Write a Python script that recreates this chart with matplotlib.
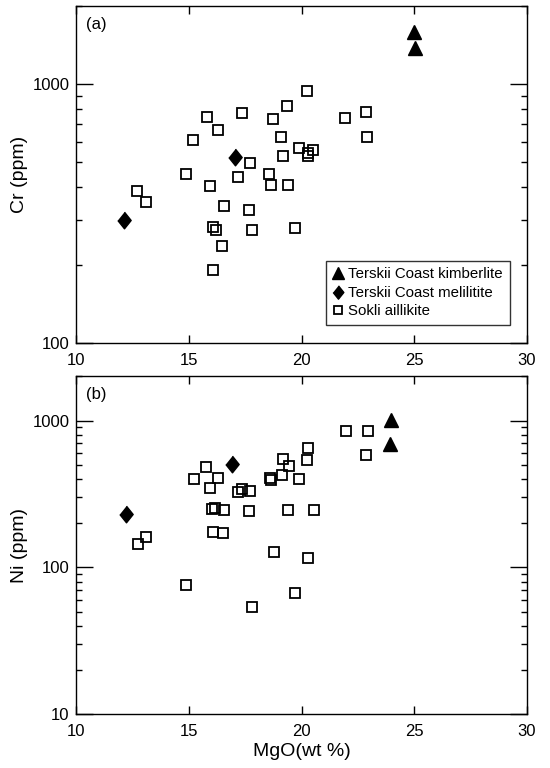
import numpy as np
import matplotlib.pyplot as plt
from matplotlib.ticker import FixedLocator, LogLocator, NullFormatter

plt.rcParams['font.family'] = ['Liberation Sans', 'DejaVu Sans']

# (a) Cr (ppm) vs MgO (wt %)
kimb_mgo_a = [25.0, 25.03]
kimb_cr = [1585, 1375]
meli_mgo_a = [17.03, 12.12]
meli_cr = [523, 298]
sokli_mgo_a = [15.79, 17.34, 18.72, 16.30, 15.19, 19.08, 19.19, 17.71, 14.85, 17.16,
               18.57, 19.37, 20.23, 21.93, 22.87, 22.90, 19.90, 20.52, 20.30, 20.26,
               15.93, 18.64, 19.38, 12.67, 13.07, 16.53, 17.64, 16.05, 16.19, 17.80,
               16.45, 16.05, 19.71]
sokli_cr = [747, 777, 732, 665, 609, 625, 527, 497, 450, 437,
            452, 826, 942, 737, 781, 627, 565, 557, 544, 528,
            404, 408, 408, 386, 351, 340, 326, 281, 274, 274,
            237, 192, 279]

# (b) Ni (ppm) vs MgO (wt %)
kimb_mgo_b = [23.97, 23.94]
kimb_ni = [1011, 694]
meli_mgo_b = [16.90, 12.21]
meli_ni = [502, 232]
sokli_mgo_b = [15.76, 15.20, 16.28, 15.94, 17.16, 17.34, 17.71, 18.60, 18.62, 19.12,
               19.19, 16.04, 16.15, 16.57, 17.64, 16.05, 16.49, 13.08, 12.72, 18.78,
               21.95, 22.93, 22.86, 20.30, 20.23, 19.44, 19.90, 19.41, 20.55, 14.88,
               17.79, 20.30, 19.71]
sokli_ni = [481, 397, 408, 347, 325, 340, 330, 404, 392, 427,
            549, 251, 255, 244, 242, 174, 171, 161, 145, 127,
            855, 842, 585, 648, 540, 494, 401, 247, 247, 76,
            54, 115, 67]

diamante = [(0, 1), (0.8, 0), (0, -1), (-0.8, 0)]

fig = plt.figure(figsize=(5.5, 7.68), dpi=100)
ax1 = fig.add_axes([0.139, 0.553, 0.819, 0.439])
ax2 = fig.add_axes([0.139, 0.070, 0.819, 0.440])


def pontos(ax, mk, yk, mm, ym, ms_, ys_):
    ax.plot(mk, yk, linestyle='none', marker='^', ms=10, color='k',
            label='Terskii Coast kimberlite')
    ax.plot(mm, ym, linestyle='none', marker=diamante, ms=12, color='k',
            label='Terskii Coast melilitite')
    ax.plot(ms_, ys_, linestyle='none', marker='s', ms=7.6, mfc='none', mec='k',
            mew=1.3, label='Sokli aillikite')


def eixos(ax, ymin, yticks):
    ax.set_yscale('log')
    ax.set_xlim(10, 30)
    ax.set_ylim(ymin, 2000)
    ax.xaxis.set_major_locator(FixedLocator([10, 15, 20, 25, 30]))
    ax.yaxis.set_major_locator(FixedLocator(yticks))
    ax.set_yticklabels([str(t) for t in yticks])
    ax.yaxis.set_minor_locator(LogLocator(base=10, subs=np.arange(2, 10)))
    ax.yaxis.set_minor_formatter(NullFormatter())
    ax.tick_params(axis='both', which='both', direction='in', top=True, right=True,
                   labelsize=12, width=1)
    ax.tick_params(axis='x', which='major', length=6, pad=7)
    ax.tick_params(axis='y', which='major', length=12, pad=5)
    ax.tick_params(axis='y', which='minor', length=4)
    for s in ax.spines.values():
        s.set_linewidth(1)


pontos(ax1, kimb_mgo_a, kimb_cr, meli_mgo_a, meli_cr, sokli_mgo_a, sokli_cr)
eixos(ax1, 100, [100, 1000])
ax1.set_ylabel('Cr (ppm)', fontsize=14, labelpad=3)
ax1.text(0.022, 0.968, '(a)', transform=ax1.transAxes, fontsize=12, va='top')
leg = ax1.legend(loc='lower right', bbox_to_anchor=(0.962, 0.054), borderaxespad=0,
                 fontsize=10.8, frameon=True, fancybox=False, edgecolor='k',
                 markerscale=0.8, handlelength=0.7, handletextpad=0.35,
                 labelspacing=0.3, borderpad=0.45)
leg.get_frame().set_linewidth(1)

pontos(ax2, kimb_mgo_b, kimb_ni, meli_mgo_b, meli_ni, sokli_mgo_b, sokli_ni)
eixos(ax2, 10, [10, 100, 1000])
ax2.set_ylabel('Ni (ppm)', fontsize=14, labelpad=3)
ax2.set_xlabel('MgO(wt %)', fontsize=14, labelpad=3)
ax2.text(0.022, 0.968, '(b)', transform=ax2.transAxes, fontsize=12, va='top')

plt.savefig('out.png', dpi=100)
